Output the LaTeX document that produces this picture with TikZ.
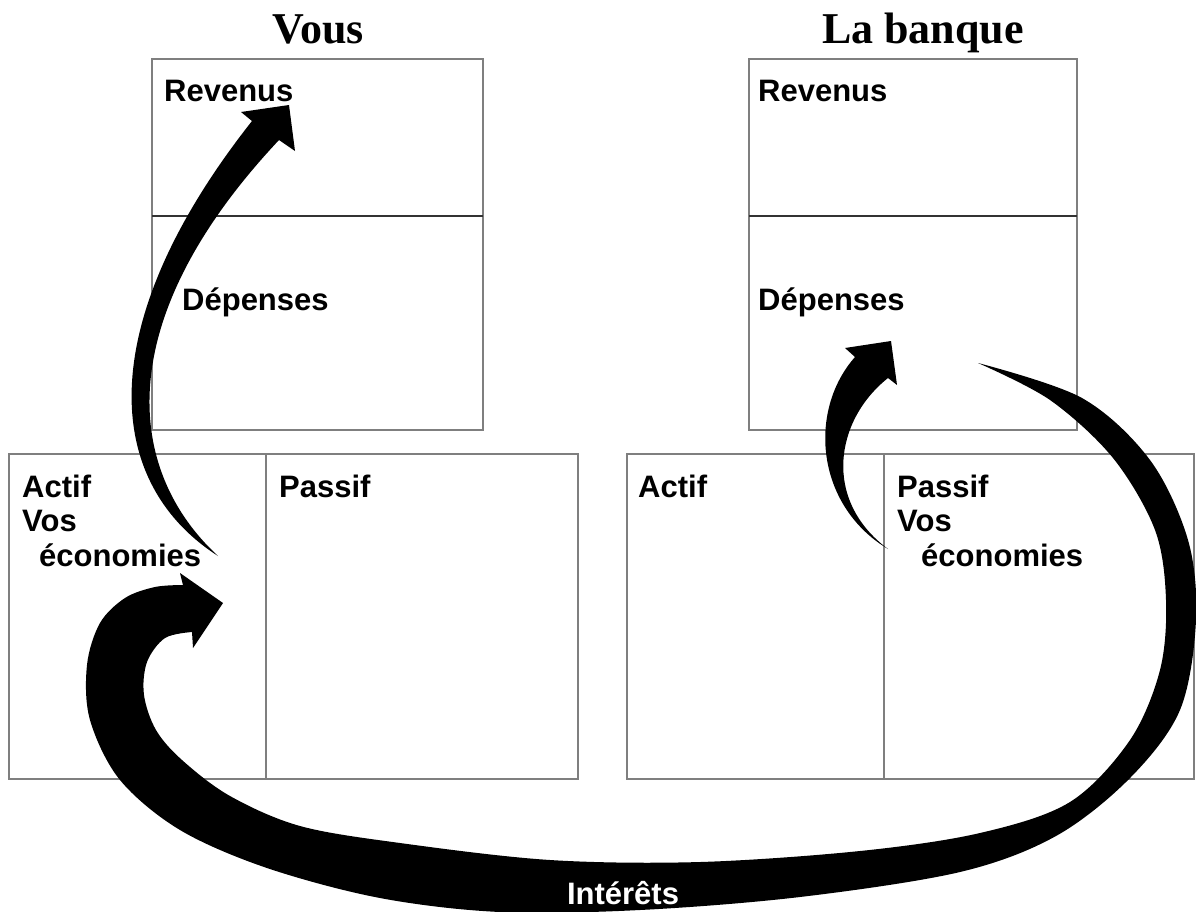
\documentclass[tikz,border=0pt]{standalone}
\usepackage{fontspec}
\setsansfont{Liberation Sans}
\newfontfamily\titrefont{Liberation Serif}
\definecolor{trait}{HTML}{7F7F7F}
\tikzset{
	compte/.style={draw=trait, line width=1.2pt, inner sep=0pt, outer sep=0pt},
	separ/.style={draw=black!80, line width=1.2pt},
	etiq/.style={inner sep=0pt, font={\sffamily\bfseries\fontsize{31}{36}\selectfont}},
	titre/.style={inner sep=0pt, font={\titrefont\bfseries\fontsize{44}{50}\selectfont}},
	fleche/.style={fill=black}
}
\begin{document}
\begin{tikzpicture}[x=1pt, y=-1pt]
	\useasboundingbox (0,0) rectangle (1196,911);
	% boxes
	\node[compte, minimum width=331pt, minimum height=371pt] (vousHaut) at (317.5,244.5) {};
	\node[compte, minimum width=569pt, minimum height=325pt] (vousBas) at (293.5,616.5) {};
	\node[compte, minimum width=328pt, minimum height=371pt] (banqueHaut) at (913,244.5) {};
	\node[compte, minimum width=567pt, minimum height=325pt] (banqueBas) at (910.5,616.5) {};
	\draw[separ] (152,216) -- (483,216);
	\draw[separ] (749,216) -- (1077,216);
	\draw[compte] (266,454) -- (266,779);
	\draw[compte] (884,454) -- (884,779);
	
	% arrows
	\coordinate (vousQueue) at (218,556);
	\coordinate (vousPointe) at (289,105);
	\coordinate (banqueQueue) at (888,549);
	\coordinate (banquePointe) at (891,341);
	\coordinate (interetsQueue) at (978,363);
	\coordinate (interetsPointe) at (223,603);
	
	\fill[fleche] (vousQueue) .. controls (100,480) and (95,320) .. (252,121)
		-- (241,112) -- (vousPointe) -- (295,151) -- (279,140)
		.. controls (110,320) and (125,470) .. (vousQueue) -- cycle;
	
	\fill[fleche] (banqueQueue) .. controls (815,505) and (808,410) .. (855,357)
		-- (845,348) -- (banquePointe) -- (897,385) -- (888,378)
		.. controls (835,420) and (822,500) .. (banqueQueue) -- cycle;
	
	\fill[fleche] plot[smooth, tension=0.55] coordinates {(interetsQueue) (1082,398) (1150,460)
		(1188,540) (1196,620) (1180,710) (1130,778) (1056,836) (960,872) (800,897) (640,910)
		(500,912) (380,898) (267,868) (180,830) (120,780) (90,720) (87,665) (100,623)
		(125,598) (155,587) (183,585)}
		-- (180,573) -- (interetsPointe) -- (193,648)
		-- plot[smooth, tension=0.55] coordinates {(192,632) (165,638) (147,662) (144,695)
		(156,730) (182,760) (230,796) (300,826) (400,843) (550,860) (700,862) (860,851)
		(980,833) (1070,802) (1130,740) (1160,670) (1166,600) (1155,530) (1113,458)
		(1050,400) (interetsQueue)} -- cycle;
	
	% labels
	\node[titre, anchor=base] (vous) at (318,43) {Vous};
	\node[titre, anchor=base] (banque) at (923,43) {La banque};
	\node[etiq, anchor=base west] (vousRev) at (164,101) {Revenus};
	\node[etiq, anchor=base west] (vousDep) at (182,310) {Dépenses};
	\node[etiq, anchor=base west] (vousActif) at (22,497) {Actif};
	\node[etiq, anchor=base west] (vousVos) at (22,531) {Vos};
	\node[etiq, anchor=base west] (vousEco) at (39,566) {économies};
	\node[etiq, anchor=base west] (vousPassif) at (279,497) {Passif};
	\node[etiq, anchor=base west] (banqueRev) at (758,101) {Revenus};
	\node[etiq, anchor=base west] (banqueDep) at (758,310) {Dépenses};
	\node[etiq, anchor=base west] (banqueActif) at (638,497) {Actif};
	\node[etiq, anchor=base west] (banquePassif) at (897,497) {Passif};
	\node[etiq, anchor=base west] (banqueVos) at (897,531) {Vos};
	\node[etiq, anchor=base west] (banqueEco) at (921,566) {économies};
	\node[etiq, text=white, anchor=base] (interets) at (623,904) {Intérêts};
\end{tikzpicture}
\end{document}
